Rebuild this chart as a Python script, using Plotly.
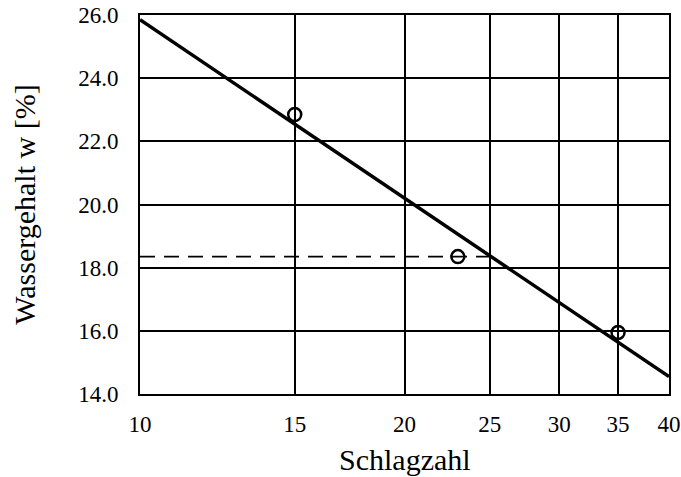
import plotly.graph_objects as go
import numpy as np

# data
schlag = [15, 23, 35]
wasser = [22.85, 18.35, 15.95]
fit_x = [10, 40]
fit_y = [25.85, 14.55]
ref_x = [10, 25.1]
ref_y = [18.35, 18.35]
xticks = [10, 15, 20, 25, 30, 35, 40]
yticks = [14, 16, 18, 20, 22, 24, 26]
yticklabels = ["14.0", "16.0", "18.0", "20.0", "22.0", "24.0", "26.0"]

fig = go.Figure()
fig.add_trace(go.Scatter(x=ref_x, y=ref_y, mode="lines",
                         line=dict(color="black", width=1.8, dash="15px,9px"),
                         showlegend=False))
fig.add_trace(go.Scatter(x=fit_x, y=fit_y, mode="lines",
                         line=dict(color="black", width=3.5),
                         showlegend=False))
fig.add_trace(go.Scatter(x=schlag, y=wasser, mode="markers",
                         marker=dict(symbol="circle-open", size=13, color="black",
                                     line=dict(width=2.5, color="black")),
                         showlegend=False, cliponaxis=False))

font = "Liberation Serif, Times New Roman, serif"
fig.update_layout(
    width=681, height=477,
    margin=dict(l=140, r=12, t=15, b=83),
    paper_bgcolor="white", plot_bgcolor="white",
    font=dict(family=font, color="black", size=23),
    xaxis=dict(type="log", range=[1, np.log10(40)],
               tickvals=xticks, ticktext=[str(v) for v in xticks],
               showgrid=True, gridcolor="black", gridwidth=2,
               showline=True, linecolor="black", linewidth=2, mirror=True,
               ticks="outside", ticklen=8, tickcolor="rgba(0,0,0,0)",
               tickfont=dict(size=23), automargin=False,
               zeroline=False),
    yaxis=dict(range=[14, 26], tickvals=yticks, ticktext=yticklabels,
               showgrid=True, gridcolor="black", gridwidth=2,
               showline=True, linecolor="black", linewidth=2, mirror=True,
               ticks="outside", ticklen=15, tickcolor="rgba(0,0,0,0)",
               tickfont=dict(size=23), automargin=False,
               zeroline=False),
    annotations=[
        dict(text="Schlagzahl", xref="paper", yref="paper", x=0.5, y=-0.174,
             xanchor="center", yanchor="middle", showarrow=False,
             font=dict(size=30)),
        dict(text="Wassergehalt w [%]", xref="paper", yref="paper",
             x=-0.219, y=0.5, xanchor="center", yanchor="middle",
             textangle=-90, showarrow=False, font=dict(size=30)),
    ],
)

fig.write_html("out.html",
               config={"displayModeBar": False, "staticPlot": True},
               post_script="document.body.style.margin='0';document.body.style.overflow='hidden';")
